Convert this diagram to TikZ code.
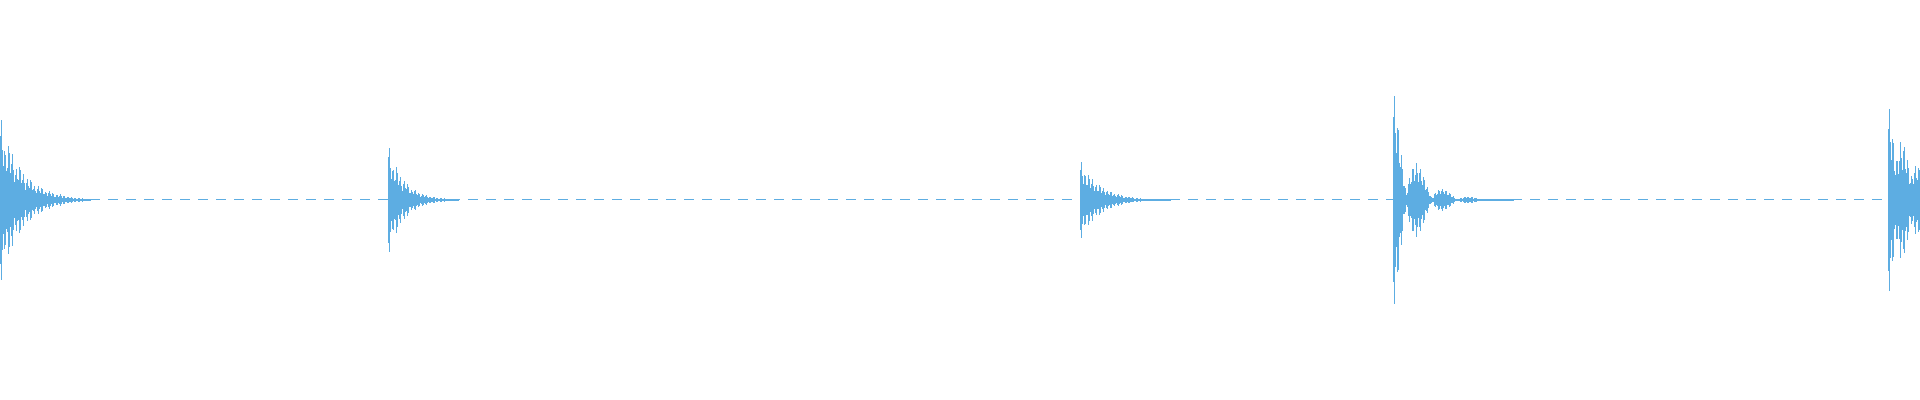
\documentclass[tikz,border=0pt]{standalone}
\definecolor{wave}{HTML}{5DADE2}
\begin{document}
\begin{tikzpicture}[x=0.5pt,y=-0.5pt]
\useasboundingbox (0,0) rectangle (1920,400);
\draw[wave,line width=0.5pt,dash pattern=on 5pt off 4pt] (0,200) -- (1920,200);
% x0 / amplitude / decay / modulation depth / modulation freq (deg per px) / length
\foreach \xo/\A/\tau/\m/\w/\len in {0/85/22/0.3/18/90, 388/57/16/0.3/20/70, 1080/40/20/0.2/18/90, 1393/110/22/0.9/7/120, 1888/95/30/0.5/12/32}{
  \foreach \i in {0,...,\len}{
    \pgfmathsetmacro\a{max(0.6,\A*exp(-\i/\tau)*(0.75+0.25*sin(\i*97.5))*(1-\m+\m*abs(cos(\i*\w))))}
    \fill[wave] (\xo+\i,200-\a) rectangle (\xo+\i+1.2,200+\a);
  }
}
\end{tikzpicture}
\end{document}
